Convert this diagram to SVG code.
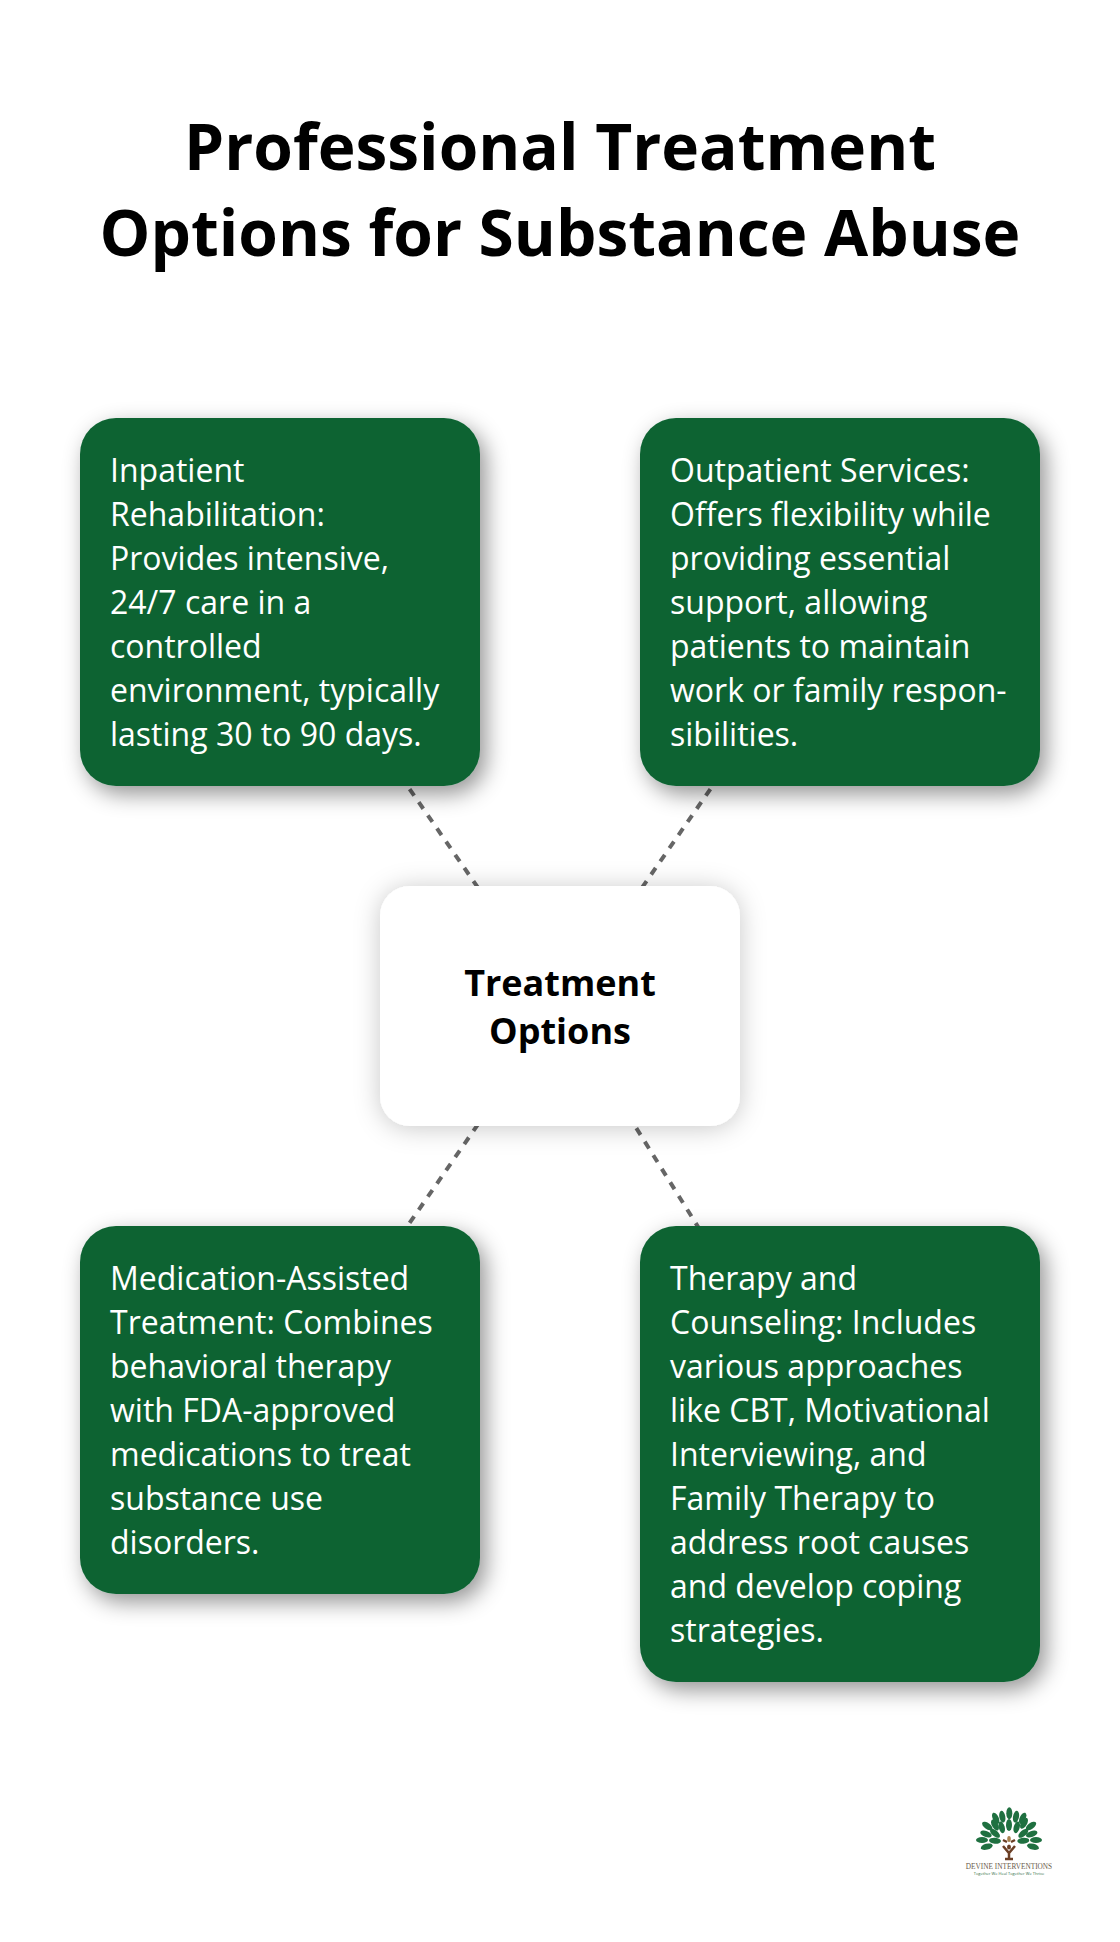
<svg xmlns="http://www.w3.org/2000/svg" width="1120" height="1942" viewBox="0 0 1120 1942">
<defs>
<filter id="sg" x="-20%" y="-20%" width="140%" height="140%"><feDropShadow dx="6" dy="8" stdDeviation="11" flood-color="#000" flood-opacity="0.42"/></filter>
<filter id="sw" x="-30%" y="-30%" width="160%" height="160%"><feDropShadow dx="0" dy="2" stdDeviation="13" flood-color="#000" flood-opacity="0.22"/></filter>
<ellipse id="leaf" cx="0" cy="0" rx="3" ry="6"/>
</defs>
<style>
text{font-family:"Open Sans","Noto Sans","Liberation Sans",sans-serif}
.title{font-size:64px;font-weight:700;fill:#000;text-anchor:middle}
.body{font-size:32px;fill:#fff}
.center{font-size:36px;font-weight:700;fill:#000;text-anchor:middle}
.card{fill:#0c6333;filter:url(#sg)}
.hub{fill:#fff;filter:url(#sw)}
.conn{stroke:#666;stroke-width:4;stroke-dasharray:8 8;fill:none}
.lf{fill:#1f7040}
</style>
<rect width="1120" height="1942" fill="#fff"/>
<g id="title"><text class="title" x="560" y="170">Professional Treatment</text><text class="title" x="560" y="256">Options for Substance Abuse</text></g>
<g id="connectors">
<line class="conn" x1="560" y1="1006" x2="280" y2="602"/>
<line class="conn" x1="560" y1="1006" x2="840" y2="602"/>
<line class="conn" x1="560" y1="1006" x2="280" y2="1410"/>
<line class="conn" x1="560" y1="1006" x2="840" y2="1454"/>
</g>
<g id="node-inpatient"><rect class="card" x="80" y="418" width="400" height="368" rx="36"/>
<text class="body"><tspan x="110" y="482">Inpatient</tspan><tspan x="110" y="526">Rehabilitation:</tspan><tspan x="110" y="570">Provides intensive,</tspan><tspan x="110" y="614">24/7 care in a</tspan><tspan x="110" y="658">controlled</tspan><tspan x="110" y="702">environment, typically</tspan><tspan x="110" y="746">lasting 30 to 90 days.</tspan></text></g>
<g id="node-outpatient"><rect class="card" x="640" y="418" width="400" height="368" rx="36"/>
<text class="body"><tspan x="670" y="482">Outpatient Services:</tspan><tspan x="670" y="526">Offers flexibility while</tspan><tspan x="670" y="570">providing essential</tspan><tspan x="670" y="614">support, allowing</tspan><tspan x="670" y="658">patients to maintain</tspan><tspan x="670" y="702">work or family respon-</tspan><tspan x="670" y="746">sibilities.</tspan></text></g>
<g id="node-center"><rect class="hub" x="380" y="886" width="360" height="240" rx="30"/>
<text class="center"><tspan x="560" y="996">Treatment</tspan><tspan x="560" y="1044">Options</tspan></text></g>
<g id="node-medication"><rect class="card" x="80" y="1226" width="400" height="368" rx="36"/>
<text class="body"><tspan x="110" y="1290">Medication-Assisted</tspan><tspan x="110" y="1334">Treatment: Combines</tspan><tspan x="110" y="1378">behavioral therapy</tspan><tspan x="110" y="1422">with FDA-approved</tspan><tspan x="110" y="1466">medications to treat</tspan><tspan x="110" y="1510">substance use</tspan><tspan x="110" y="1554">disorders.</tspan></text></g>
<g id="node-therapy"><rect class="card" x="640" y="1226" width="400" height="456" rx="36"/>
<text class="body"><tspan x="670" y="1290">Therapy and</tspan><tspan x="670" y="1334">Counseling: Includes</tspan><tspan x="670" y="1378">various approaches</tspan><tspan x="670" y="1422">like CBT, Motivational</tspan><tspan x="670" y="1466">Interviewing, and</tspan><tspan x="670" y="1510">Family Therapy to</tspan><tspan x="670" y="1554">address root causes</tspan><tspan x="670" y="1598">and develop coping</tspan><tspan x="670" y="1642">strategies.</tspan></text></g>
<g id="logo">
<g class="lf">
<use href="#leaf" transform="translate(1009.300,1813.300)"/>
<use href="#leaf" transform="translate(1002.300,1816.700) rotate(-10)"/>
<use href="#leaf" transform="translate(1016,1816.700) rotate(10)"/>
<use href="#leaf" transform="translate(995.700,1818.300) rotate(-25)"/>
<use href="#leaf" transform="translate(1022.700,1818.300) rotate(25)"/>
<use href="#leaf" transform="translate(987.300,1826) rotate(-55)"/>
<use href="#leaf" transform="translate(1031,1826) rotate(55)"/>
<use href="#leaf" transform="translate(986,1834) rotate(-70)"/>
<use href="#leaf" transform="translate(1031.700,1834) rotate(70)"/>
<use href="#leaf" transform="translate(982,1840) rotate(-90)"/>
<use href="#leaf" transform="translate(1036,1840) rotate(90)"/>
<use href="#leaf" transform="translate(986.700,1846.700) rotate(-105)"/>
<use href="#leaf" transform="translate(1033,1846.700) rotate(105)"/>
<use href="#leaf" transform="translate(1009,1825)"/>
<use href="#leaf" transform="translate(1001.700,1827.300) rotate(-15)"/>
<use href="#leaf" transform="translate(1016.700,1827.300) rotate(15)"/>
<use href="#leaf" transform="translate(995,1825) rotate(-30)"/>
<use href="#leaf" transform="translate(1024,1823.300) rotate(30)"/>
<use href="#leaf" transform="translate(995,1833.300) rotate(-50)"/>
<use href="#leaf" transform="translate(1023.300,1833.300) rotate(50)"/>
<use href="#leaf" transform="translate(995,1840.700) rotate(-85)"/>
<use href="#leaf" transform="translate(1023.300,1840.700) rotate(85)"/>
</g>
<path d="M1003 1846L1009 1853L1015 1846M1009 1851V1858M1005 1859H1013M1003 1840L1007 1842M1015 1840L1011 1842" stroke="#6b3f25" stroke-width="2.500" fill="none"/>
<ellipse cx="1009" cy="1847" rx="2" ry="2.500" fill="#6b3f25"/>
<ellipse cx="1009" cy="1839" rx="1.800" ry="3" fill="#a9824f"/>
<text x="1009" y="1868.500" style="font-family:'Liberation Serif',serif" font-size="7.300" fill="#6b5a4a" text-anchor="middle">DEVINE INTERVENTIONS</text>
<text x="1009" y="1875" font-size="4" fill="#2f6b3f" text-anchor="middle">Together We Heal Together We Thrive</text>
</g>
</svg>
